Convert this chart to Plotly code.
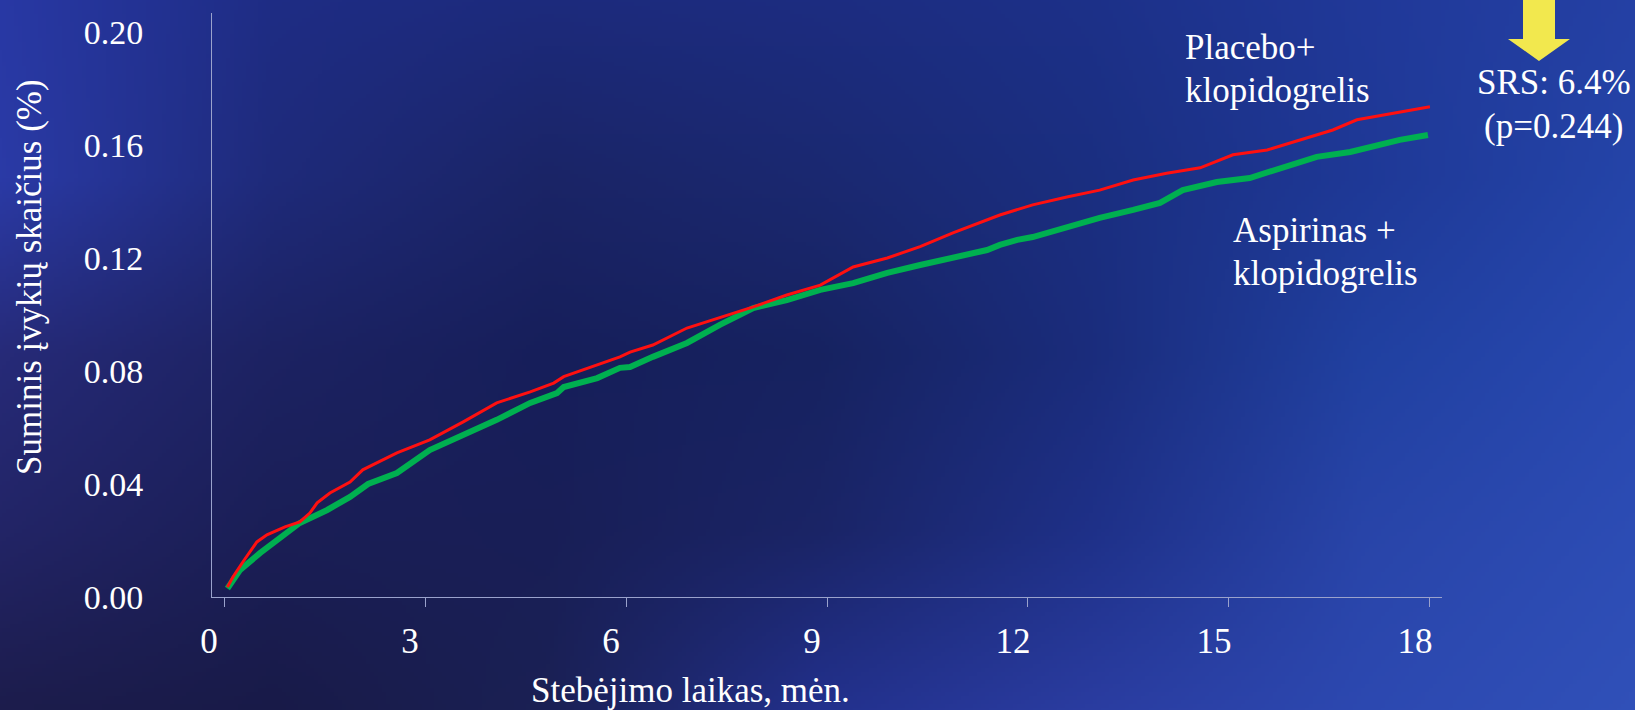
import base64
import struct
import zlib

import numpy as np
import plotly.graph_objects as go

# ---------------- data ----------------
months_placebo = [0.05, 0.13, 0.28, 0.49, 0.64, 0.91, 1.13, 1.28, 1.39, 1.58, 1.88, 2.07, 2.58,
                  3.07, 3.57, 4.07, 4.57, 4.92, 5.07, 5.57, 5.91, 6.06, 6.4, 6.91, 7.4, 7.9, 8.4,
                  8.9, 9.39, 9.9, 10.39, 10.88, 11.58, 12.07, 12.58, 13.07, 13.57, 14.07, 14.57,
                  15.06, 15.57, 16.06, 16.55, 16.91, 17.3, 17.55, 18.0]
risk_placebo = [0.0035, 0.007, 0.0124, 0.0195, 0.022, 0.0248, 0.0266, 0.0297, 0.0333, 0.0368,
                0.0407, 0.045, 0.051, 0.0556, 0.062, 0.0687, 0.0726, 0.0757, 0.078, 0.082,
                0.085, 0.0867, 0.0892, 0.0952, 0.0988, 0.1027, 0.1069, 0.1104, 0.1168, 0.12,
                0.124, 0.1289, 0.1352, 0.1388, 0.1416, 0.144, 0.1476, 0.150, 0.1519, 0.1565,
                0.1582, 0.1618, 0.1653, 0.1689, 0.1706, 0.1717, 0.1735]

months_aspirin = [0.05, 0.24, 0.54, 0.84, 1.13, 1.54, 1.88, 2.15, 2.58, 3.07, 3.57, 4.07, 4.57,
                  4.97, 5.07, 5.57, 5.91, 6.06, 6.4, 6.91, 7.4, 7.9, 8.4, 8.9, 9.39, 9.9, 10.39,
                  10.88, 11.39, 11.58, 11.84, 12.07, 12.58, 13.07, 13.57, 13.97, 14.31, 14.82,
                  15.31, 15.81, 16.31, 16.81, 17.3, 17.55, 17.97]
risk_aspirin = [0.003, 0.0096, 0.0156, 0.0209, 0.0262, 0.0308, 0.0354, 0.040, 0.0439, 0.052,
                0.0573, 0.0627, 0.0687, 0.0722, 0.0743, 0.0775, 0.0811, 0.0814, 0.085, 0.0899,
                0.0963, 0.1023, 0.1051, 0.1087, 0.1111, 0.1147, 0.1175, 0.12, 0.1228, 0.1246,
                0.1264, 0.1274, 0.131, 0.1342, 0.137, 0.1395, 0.144, 0.1469, 0.1483, 0.1522,
                0.1558, 0.1575, 0.1607, 0.1618, 0.1635]

x_tick_values = [0, 3, 6, 9, 12, 15, 18]
x_tick_labels = ["0", "3", "6", "9", "12", "15", "18"]
y_tick_values = [0.0, 0.04, 0.08, 0.12, 0.16, 0.20]
y_tick_labels = ["0.00", "0.04", "0.08", "0.12", "0.16", "0.20"]

W, H = 1635, 710
FONT = "Liberation Serif, Times New Roman, serif"

# ---------------- background gradient (decorative) ----------------
bg_grid = [
    ["#2838a4", "#1e2c84", "#1c2a7c", "#1c2c80", "#1c3088", "#203898", "#2440a4"],
    ["#2a3aa6", "#1e2a7a", "#1a2466", "#1a2870", "#1a2e80", "#1e3896", "#2444a8"],
    ["#262a78", "#1c2262", "#161e5a", "#162260", "#1a2c7c", "#2040a0", "#2848b0"],
    ["#222466", "#1a1e56", "#181e56", "#1a2466", "#1e3088", "#2844a8", "#2c4cb4"],
    ["#1c1c4c", "#181a48", "#1a2054", "#22308c", "#2a3ca0", "#2c48b0", "#3050b8"],
]


def hex_rgb(h):
    h = h.lstrip("#")
    return [int(h[i:i + 2], 16) for i in (0, 2, 4)]


def make_bg_uri(grid, w=409, h=178):
    g = np.array([[hex_rgb(c) for c in row] for row in grid], dtype=float)
    gr, gc = g.shape[0], g.shape[1]
    ys = np.linspace(0, gr - 1, h)
    xs = np.linspace(0, gc - 1, w)
    y0 = np.clip(np.floor(ys).astype(int), 0, gr - 2)
    x0 = np.clip(np.floor(xs).astype(int), 0, gc - 2)
    fy = (ys - y0)[:, None, None]
    fx = (xs - x0)[None, :, None]
    a = g[y0][:, x0]
    b = g[y0][:, x0 + 1]
    c = g[y0 + 1][:, x0]
    d = g[y0 + 1][:, x0 + 1]
    img = (a * (1 - fx) * (1 - fy) + b * fx * (1 - fy) + c * (1 - fx) * fy + d * fx * fy)
    img = np.clip(np.round(img), 0, 255).astype(np.uint8)
    raw = b"".join(b"\x00" + img[r].tobytes() for r in range(h))

    def chunk(tag, data):
        return (struct.pack(">I", len(data)) + tag + data
                + struct.pack(">I", zlib.crc32(tag + data) & 0xFFFFFFFF))

    png = (b"\x89PNG\r\n\x1a\n"
           + chunk(b"IHDR", struct.pack(">IIBBBBB", w, h, 8, 2, 0, 0, 0))
           + chunk(b"IDAT", zlib.compress(raw, 9))
           + chunk(b"IEND", b""))
    return "data:image/png;base64," + base64.b64encode(png).decode()


fig = go.Figure()

fig.add_trace(go.Scatter(
    x=months_aspirin, y=risk_aspirin, mode="lines",
    line=dict(color="#00b050", width=6), name="Aspirinas + klopidogrelis",
))
fig.add_trace(go.Scatter(
    x=months_placebo, y=risk_placebo, mode="lines",
    line=dict(color="#ff1010", width=3), name="Placebo+ klopidogrelis",
))

axis_line = "#9aa2cc"
fig.update_layout(
    width=W, height=H,
    margin=dict(l=0, r=0, t=0, b=0, pad=0, autoexpand=False),
    paper_bgcolor="#1a2262",
    plot_bgcolor="rgba(0,0,0,0)",
    showlegend=False,
    font=dict(family=FONT, color="white", size=35),
    xaxis=dict(
        domain=[212 / W, 1442 / W], range=[-0.18, 18.18],
        tickvals=x_tick_values, ticktext=x_tick_labels,
        showgrid=False, zeroline=False,
        showline=True, linecolor=axis_line, linewidth=1,
        ticks="outside", ticklen=9, tickcolor=axis_line, tickwidth=1,
        tickfont=dict(family=FONT, size=35, color="white"),
        ticklabelshift=-15, ticklabelstandoff=4, automargin=False,
    ),
    yaxis=dict(
        domain=[(H - 597) / H, (H - 13) / H], range=[0, 0.2067],
        tickvals=y_tick_values, ticktext=y_tick_labels,
        showgrid=False, zeroline=False,
        showline=True, linecolor=axis_line, linewidth=1,
        ticks="",
        tickfont=dict(family=FONT, size=34, color="white"),
        ticklabelstandoff=61, automargin=False,
    ),
)

fig.add_layout_image(dict(
    source=make_bg_uri(bg_grid), xref="paper", yref="paper",
    x=0, y=1, sizex=1, sizey=1, xanchor="left", yanchor="top",
    sizing="stretch", layer="below",
))

# yellow arrow (decoration)
pts = [(1523, -2), (1555, -2), (1555, 39), (1570, 39), (1539, 61), (1508, 39), (1523, 39)]
path = "M " + " L ".join(f"{x / W:.5f},{1 - y / H:.5f}" for x, y in pts) + " Z"
fig.add_shape(type="path", path=path, xref="paper", yref="paper",
              fillcolor="#f2e84e", line=dict(width=0))


def note(text, x, y, xanchor="left", angle=0):
    fig.add_annotation(text=text, x=x / W, y=1 - y / H, xref="paper", yref="paper",
                       xanchor=xanchor, yanchor="middle", showarrow=False, textangle=angle,
                       font=dict(family=FONT, size=35, color="white"))


note("Placebo+", 1183, 47)
note("klopidogrelis", 1183, 90)
note("Aspirinas +", 1231, 230)
note("klopidogrelis", 1231, 274)
note("SRS: 6.4%", 1554, 83, "center")
note("(p=0.244)", 1553, 127, "center")
note("Stebėjimo laikas, mėn.", 690, 690, "center")
note("Suminis įvykių skaičius (%)", 30, 277, "center", -90)

fig.write_html("out.html")
